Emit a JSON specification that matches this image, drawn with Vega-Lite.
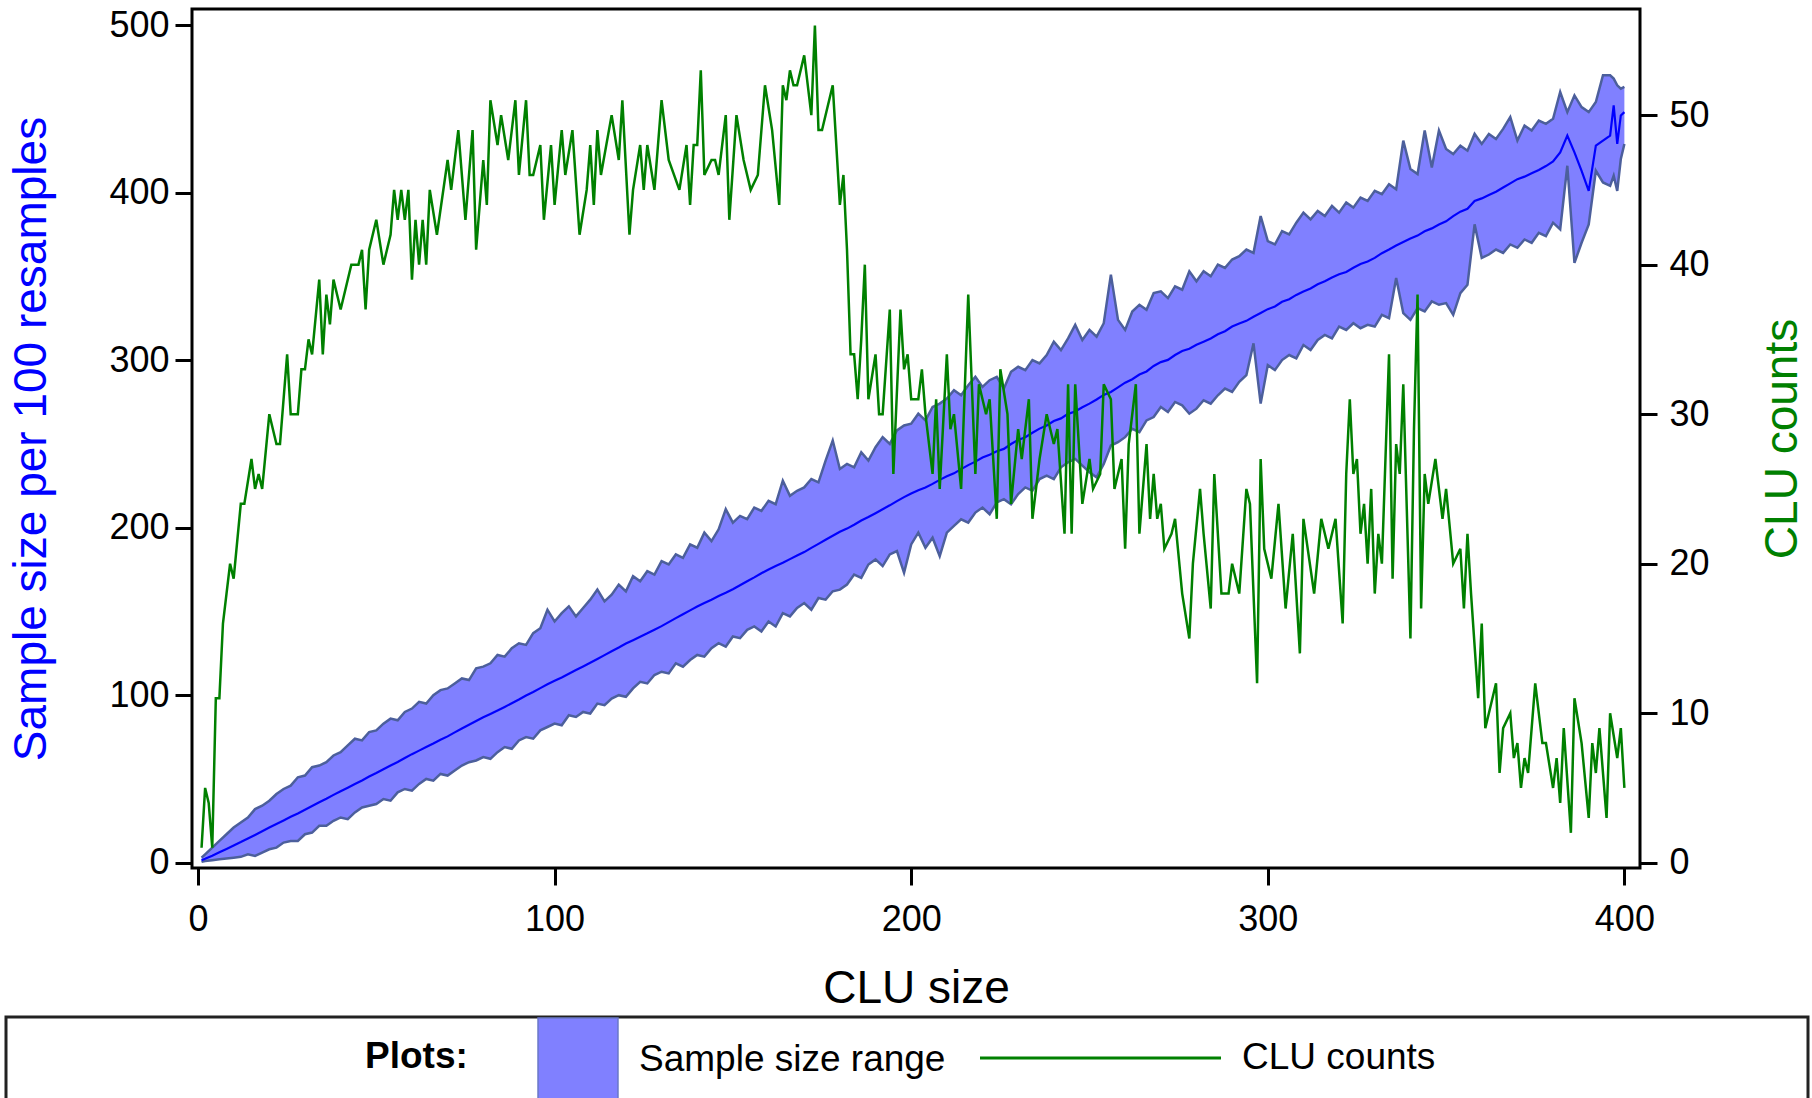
{
  "$schema": "https://vega.github.io/schema/vega-lite/v6.json",
  "autosize": "none",
  "width": 1448,
  "height": 859,
  "padding": {"left": 192, "top": 9, "right": 172, "bottom": 230},
  "background": "white",
  "datasets": {
    "band": [
      {"clu":1,"low":0.5,"high":3,"mean":1.5},{"clu":2,"low":1,"high":5,"mean":2.3},{"clu":4,"low":1.5,"high":9,"mean":4.1},{"clu":6,"low":2,"high":13,"mean":6.2},{"clu":8,"low":2.5,"high":17,"mean":8.2},{"clu":10,"low":3,"high":21,"mean":10.3},{"clu":12,"low":3.5,"high":24,"mean":12.3},{"clu":14,"low":5,"high":27,"mean":14.5},{"clu":16,"low":4,"high":32,"mean":16.6},{"clu":18,"low":6,"high":34,"mean":18.8},{"clu":20,"low":8,"high":37,"mean":21},{"clu":22,"low":9,"high":41,"mean":23.1},{"clu":24,"low":12,"high":44,"mean":25.2},{"clu":26,"low":13,"high":46,"mean":27.4},{"clu":28,"low":13,"high":51,"mean":29.4},{"clu":30,"low":17,"high":52,"mean":31.6},{"clu":32,"low":18,"high":57,"mean":33.8},{"clu":34,"low":22,"high":58,"mean":36.1},{"clu":36,"low":22,"high":60,"mean":38.2},{"clu":38,"low":25,"high":64,"mean":40.5},{"clu":40,"low":27,"high":66,"mean":42.7},{"clu":42,"low":26,"high":70,"mean":44.8},{"clu":44,"low":30,"high":74,"mean":47},{"clu":46,"low":33,"high":73,"mean":49.1},{"clu":48,"low":34,"high":78,"mean":51.4},{"clu":50,"low":35,"high":79,"mean":53.5},{"clu":52,"low":38,"high":83,"mean":55.8},{"clu":54,"low":37,"high":86,"mean":58},{"clu":56,"low":42,"high":85,"mean":60.1},{"clu":58,"low":44,"high":90,"mean":62.5},{"clu":60,"low":43,"high":92,"mean":64.8},{"clu":62,"low":47,"high":96,"mean":66.9},{"clu":64,"low":50,"high":95,"mean":69},{"clu":66,"low":49,"high":100,"mean":71.1},{"clu":68,"low":53,"high":103,"mean":73.4},{"clu":70,"low":52,"high":104,"mean":75.4},{"clu":72,"low":55,"high":107,"mean":77.8},{"clu":74,"low":58,"high":110,"mean":80.1},{"clu":76,"low":60,"high":109,"mean":82.3},{"clu":78,"low":61,"high":116,"mean":84.6},{"clu":80,"low":63,"high":117,"mean":86.8},{"clu":82,"low":62,"high":119,"mean":88.8},{"clu":84,"low":66,"high":124,"mean":90.9},{"clu":86,"low":69,"high":123,"mean":93},{"clu":88,"low":68,"high":128,"mean":95.2},{"clu":90,"low":73,"high":131,"mean":97.4},{"clu":92,"low":75,"high":130,"mean":99.8},{"clu":94,"low":74,"high":137,"mean":101.9},{"clu":96,"low":79,"high":140,"mean":104.2},{"clu":98,"low":81,"high":151,"mean":106.5},{"clu":100,"low":83,"high":144,"mean":108.6},
      {"clu":102,"low":82,"high":149,"mean":110.5},{"clu":104,"low":88,"high":153,"mean":112.8},{"clu":106,"low":87,"high":147,"mean":115},{"clu":108,"low":90,"high":152,"mean":117.1},{"clu":110,"low":89,"high":157,"mean":119.3},{"clu":112,"low":95,"high":163,"mean":121.6},{"clu":114,"low":94,"high":156,"mean":123.9},{"clu":116,"low":98,"high":160,"mean":126.2},{"clu":118,"low":100,"high":166,"mean":128.4},{"clu":120,"low":99,"high":162,"mean":130.8},{"clu":122,"low":104,"high":171,"mean":132.8},{"clu":124,"low":108,"high":168,"mean":134.9},{"clu":126,"low":107,"high":174,"mean":136.9},{"clu":128,"low":112,"high":172,"mean":139.1},{"clu":130,"low":114,"high":180,"mean":141.2},{"clu":132,"low":113,"high":178,"mean":143.6},{"clu":134,"low":119,"high":184,"mean":146},{"clu":136,"low":117,"high":182,"mean":148.3},{"clu":138,"low":121,"high":190,"mean":150.6},{"clu":140,"low":124,"high":188,"mean":152.9},{"clu":142,"low":123,"high":197,"mean":155},{"clu":144,"low":128,"high":192,"mean":157},{"clu":146,"low":131,"high":199,"mean":159.2},{"clu":148,"low":129,"high":211,"mean":161.1},{"clu":150,"low":135,"high":203,"mean":163.2},{"clu":152,"low":134,"high":207,"mean":165.6},{"clu":154,"low":139,"high":205,"mean":168},{"clu":156,"low":141,"high":212,"mean":170.3},{"clu":158,"low":138,"high":210,"mean":172.8},{"clu":160,"low":144,"high":216,"mean":175},{"clu":162,"low":141,"high":214,"mean":177.1},{"clu":164,"low":149,"high":228,"mean":179},{"clu":166,"low":147,"high":219,"mean":181.2},{"clu":168,"low":152,"high":222,"mean":183.3},{"clu":170,"low":155,"high":224,"mean":185.4},{"clu":172,"low":151,"high":229,"mean":187.9},{"clu":174,"low":158,"high":227,"mean":190.3},{"clu":176,"low":157,"high":240,"mean":192.8},{"clu":178,"low":162,"high":252,"mean":195.1},{"clu":180,"low":163,"high":235,"mean":197.5},{"clu":182,"low":166,"high":238,"mean":199.4},{"clu":184,"low":172,"high":236,"mean":201.7},{"clu":186,"low":170,"high":245,"mean":204.2},{"clu":188,"low":178,"high":240,"mean":206.3},{"clu":190,"low":181,"high":248,"mean":208.6},{"clu":192,"low":177,"high":254,"mean":211},{"clu":194,"low":184,"high":250,"mean":213.3},{"clu":196,"low":186,"high":258,"mean":215.8},{"clu":198,"low":173,"high":261,"mean":218.2},{"clu":200,"low":190,"high":262,"mean":220.4},
      {"clu":202,"low":197,"high":268,"mean":222.3},{"clu":204,"low":188,"high":264,"mean":224},{"clu":206,"low":194,"high":272,"mean":226.1},{"clu":208,"low":183,"high":274,"mean":228.5},{"clu":210,"low":197,"high":277,"mean":230.6},{"clu":212,"low":201,"high":282,"mean":232.4},{"clu":214,"low":205,"high":279,"mean":234.9},{"clu":216,"low":203,"high":285,"mean":237.3},{"clu":218,"low":209,"high":290,"mean":239.4},{"clu":220,"low":212,"high":284,"mean":241.8},{"clu":222,"low":208,"high":288,"mean":243.5},{"clu":224,"low":215,"high":290,"mean":245.6},{"clu":226,"low":217,"high":283,"mean":247},{"clu":228,"low":214,"high":293,"mean":249.9},{"clu":230,"low":220,"high":296,"mean":252.3},{"clu":232,"low":224,"high":294,"mean":254},{"clu":234,"low":222,"high":300,"mean":256.6},{"clu":236,"low":229,"high":298,"mean":259.1},{"clu":238,"low":231,"high":303,"mean":261},{"clu":240,"low":229,"high":311,"mean":263.6},{"clu":242,"low":236,"high":306,"mean":265.2},{"clu":244,"low":239,"high":313,"mean":267.9},{"clu":246,"low":241,"high":321,"mean":269.3},{"clu":248,"low":237,"high":312,"mean":271.8},{"clu":250,"low":233,"high":318,"mean":274},{"clu":252,"low":230,"high":314,"mean":276.5},{"clu":254,"low":238,"high":322,"mean":279.2},{"clu":256,"low":249,"high":351,"mean":281},{"clu":258,"low":251,"high":324,"mean":283.7},{"clu":260,"low":254,"high":318,"mean":286.5},{"clu":262,"low":259,"high":329,"mean":288.6},{"clu":264,"low":257,"high":333,"mean":291.4},{"clu":266,"low":264,"high":330,"mean":293.2},{"clu":268,"low":266,"high":340,"mean":296.5},{"clu":270,"low":272,"high":341,"mean":298.8},{"clu":272,"low":269,"high":337,"mean":300.1},{"clu":274,"low":275,"high":344,"mean":303},{"clu":276,"low":273,"high":342,"mean":305.4},{"clu":278,"low":268,"high":353,"mean":306.8},{"clu":280,"low":271,"high":347,"mean":309.2},{"clu":282,"low":276,"high":353,"mean":311},{"clu":284,"low":274,"high":350,"mean":312.9},{"clu":286,"low":279,"high":357,"mean":315.4},{"clu":288,"low":283,"high":355,"mean":317.2},{"clu":290,"low":281,"high":360,"mean":320},{"clu":292,"low":287,"high":362,"mean":321.8},{"clu":294,"low":291,"high":366,"mean":323.4},{"clu":296,"low":310,"high":364,"mean":325.9},{"clu":298,"low":274,"high":386,"mean":328.1},{"clu":300,"low":297,"high":371,"mean":330.4},
      {"clu":302,"low":294,"high":369,"mean":332},{"clu":304,"low":300,"high":377,"mean":334.8},{"clu":306,"low":303,"high":375,"mean":336.3},{"clu":308,"low":301,"high":382,"mean":338.9},{"clu":310,"low":309,"high":388,"mean":341},{"clu":312,"low":306,"high":384,"mean":342.7},{"clu":314,"low":312,"high":389,"mean":345.2},{"clu":316,"low":315,"high":386,"mean":347},{"clu":318,"low":313,"high":392,"mean":349.3},{"clu":320,"low":320,"high":388,"mean":351.2},{"clu":322,"low":318,"high":394,"mean":352.6},{"clu":324,"low":322,"high":391,"mean":355.1},{"clu":326,"low":319,"high":397,"mean":357.4},{"clu":328,"low":321,"high":395,"mean":358.8},{"clu":330,"low":320,"high":401,"mean":361},{"clu":332,"low":327,"high":399,"mean":363.8},{"clu":334,"low":325,"high":405,"mean":366},{"clu":336,"low":349,"high":402,"mean":368.4},{"clu":338,"low":328,"high":431,"mean":370.5},{"clu":340,"low":324,"high":414,"mean":372.6},{"clu":342,"low":331,"high":411,"mean":374.3},{"clu":344,"low":329,"high":437,"mean":376.9},{"clu":346,"low":335,"high":415,"mean":378.6},{"clu":348,"low":333,"high":437,"mean":380.9},{"clu":350,"low":334,"high":426,"mean":382.8},{"clu":352,"low":327,"high":423,"mean":385.9},{"clu":354,"low":340,"high":428,"mean":388.6},{"clu":356,"low":345,"high":425,"mean":390.3},{"clu":358,"low":381,"high":435,"mean":395},{"clu":360,"low":361,"high":429,"mean":396.5},{"clu":362,"low":363,"high":435,"mean":398.5},{"clu":364,"low":366,"high":432,"mean":400.5},{"clu":366,"low":364,"high":438,"mean":403},{"clu":368,"low":369,"high":445,"mean":405.5},{"clu":370,"low":367,"high":431,"mean":408},{"clu":372,"low":372,"high":440,"mean":409.5},{"clu":374,"low":370,"high":437,"mean":411.5},{"clu":376,"low":376,"high":443,"mean":413.5},{"clu":378,"low":374,"high":441,"mean":415.8},{"clu":380,"low":382,"high":444,"mean":418.5},{"clu":382,"low":378,"high":460,"mean":424},{"clu":384,"low":416,"high":448,"mean":434},{"clu":386,"low":358,"high":458,"mean":424},{"clu":388,"low":370,"high":451,"mean":413},{"clu":390,"low":381,"high":448,"mean":401},{"clu":392,"low":413,"high":454,"mean":428},{"clu":394,"low":406,"high":470,"mean":431},{"clu":396,"low":404,"high":470,"mean":434},{"clu":397,"low":410,"high":468,"mean":452},{"clu":398,"low":401,"high":464,"mean":429},{"clu":399,"low":420,"high":462,"mean":446},{"clu":400,"low":429,"high":463,"mean":448}
    ],
    "counts": [
      {"clu":1,"count":1},{"clu":2,"count":5},{"clu":3,"count":4},{"clu":4,"count":1},{"clu":5,"count":11},{"clu":6,"count":11},{"clu":7,"count":16},{"clu":8,"count":18},{"clu":9,"count":20},{"clu":10,"count":19},{"clu":12,"count":24},{"clu":13,"count":24},{"clu":15,"count":27},{"clu":16,"count":25},{"clu":17,"count":26},{"clu":18,"count":25},{"clu":20,"count":30},{"clu":22,"count":28},{"clu":23,"count":28},{"clu":25,"count":34},{"clu":26,"count":30},{"clu":28,"count":30},{"clu":29,"count":33},{"clu":30,"count":33},{"clu":31,"count":35},{"clu":32,"count":34},{"clu":34,"count":39},{"clu":35,"count":34},{"clu":36,"count":38},{"clu":37,"count":36},{"clu":38,"count":39},{"clu":40,"count":37},{"clu":43,"count":40},{"clu":45,"count":40},{"clu":46,"count":41},{"clu":47,"count":37},{"clu":48,"count":41},{"clu":50,"count":43},{"clu":52,"count":40},{"clu":54,"count":42},{"clu":55,"count":45},{"clu":56,"count":43},{"clu":57,"count":45},{"clu":58,"count":43},{"clu":59,"count":45},{"clu":60,"count":39},{"clu":61,"count":43},{"clu":62,"count":40},{"clu":63,"count":43},{"clu":64,"count":40},{"clu":65,"count":45},{"clu":67,"count":42},{"clu":70,"count":47},{"clu":71,"count":45},{"clu":73,"count":49},{"clu":75,"count":43},{"clu":77,"count":49},{"clu":78,"count":41},{"clu":80,"count":47},{"clu":81,"count":44},{"clu":82,"count":51},{"clu":84,"count":48},{"clu":85,"count":50},{"clu":87,"count":47},{"clu":89,"count":51},{"clu":90,"count":46},{"clu":92,"count":51},{"clu":93,"count":46},{"clu":94,"count":46},{"clu":96,"count":48},{"clu":97,"count":43},{"clu":99,"count":48},{"clu":100,"count":44},
      {"clu":102,"count":49},{"clu":103,"count":46},{"clu":105,"count":49},{"clu":107,"count":42},{"clu":109,"count":45},{"clu":110,"count":48},{"clu":111,"count":44},{"clu":112,"count":49},{"clu":113,"count":46},{"clu":116,"count":50},{"clu":118,"count":47},{"clu":119,"count":51},{"clu":121,"count":42},{"clu":122,"count":45},{"clu":124,"count":48},{"clu":125,"count":45},{"clu":126,"count":48},{"clu":128,"count":45},{"clu":130,"count":51},{"clu":132,"count":47},{"clu":135,"count":45},{"clu":137,"count":48},{"clu":138,"count":44},{"clu":139,"count":48},{"clu":140,"count":48},{"clu":141,"count":53},{"clu":142,"count":46},{"clu":144,"count":47},{"clu":145,"count":47},{"clu":146,"count":46},{"clu":148,"count":50},{"clu":149,"count":43},{"clu":151,"count":50},{"clu":153,"count":47},{"clu":155,"count":45},{"clu":157,"count":46},{"clu":159,"count":52},{"clu":161,"count":49},{"clu":163,"count":44},{"clu":164,"count":52},{"clu":165,"count":51},{"clu":166,"count":53},{"clu":167,"count":52},{"clu":168,"count":52},{"clu":170,"count":54},{"clu":172,"count":50},{"clu":173,"count":56},{"clu":174,"count":49},{"clu":175,"count":49},{"clu":178,"count":52},{"clu":179,"count":48},{"clu":180,"count":44},{"clu":181,"count":46},{"clu":182,"count":41},{"clu":183,"count":34},{"clu":184,"count":34},{"clu":185,"count":31},{"clu":186,"count":35},{"clu":187,"count":40},{"clu":188,"count":31},{"clu":190,"count":34},{"clu":191,"count":30},{"clu":192,"count":30},{"clu":194,"count":37},{"clu":195,"count":26},{"clu":197,"count":37},{"clu":198,"count":33},{"clu":199,"count":34},{"clu":200,"count":31},
      {"clu":202,"count":31},{"clu":203,"count":33},{"clu":204,"count":30},{"clu":206,"count":26},{"clu":207,"count":31},{"clu":208,"count":25},{"clu":210,"count":34},{"clu":211,"count":29},{"clu":212,"count":30},{"clu":214,"count":25},{"clu":216,"count":38},{"clu":218,"count":26},{"clu":219,"count":32},{"clu":221,"count":30},{"clu":222,"count":31},{"clu":224,"count":23},{"clu":225,"count":33},{"clu":227,"count":30},{"clu":228,"count":24},{"clu":230,"count":29},{"clu":231,"count":27},{"clu":233,"count":31},{"clu":234,"count":23},{"clu":236,"count":27},{"clu":238,"count":30},{"clu":240,"count":28},{"clu":241,"count":29},{"clu":243,"count":22},{"clu":244,"count":32},{"clu":245,"count":22},{"clu":246,"count":32},{"clu":248,"count":24},{"clu":250,"count":27},{"clu":251,"count":25},{"clu":253,"count":26},{"clu":254,"count":32},{"clu":256,"count":31},{"clu":257,"count":25},{"clu":259,"count":27},{"clu":260,"count":21},{"clu":261,"count":28},{"clu":263,"count":32},{"clu":264,"count":22},{"clu":266,"count":28},{"clu":267,"count":23},{"clu":268,"count":26},{"clu":269,"count":23},{"clu":270,"count":24},{"clu":271,"count":21},{"clu":273,"count":22},{"clu":274,"count":23},{"clu":276,"count":18},{"clu":278,"count":15},{"clu":279,"count":20},{"clu":281,"count":25},{"clu":282,"count":22},{"clu":284,"count":17},{"clu":285,"count":26},{"clu":287,"count":18},{"clu":289,"count":18},{"clu":290,"count":20},{"clu":292,"count":18},{"clu":294,"count":25},{"clu":295,"count":24},{"clu":297,"count":12},{"clu":298,"count":27},{"clu":299,"count":21},
      {"clu":301,"count":19},{"clu":303,"count":24},{"clu":305,"count":17},{"clu":307,"count":22},{"clu":309,"count":14},{"clu":310,"count":23},{"clu":313,"count":18},{"clu":315,"count":23},{"clu":317,"count":21},{"clu":319,"count":23},{"clu":321,"count":16},{"clu":322,"count":26},{"clu":323,"count":31},{"clu":324,"count":26},{"clu":325,"count":27},{"clu":326,"count":22},{"clu":327,"count":24},{"clu":328,"count":20},{"clu":329,"count":25},{"clu":330,"count":18},{"clu":331,"count":22},{"clu":332,"count":20},{"clu":334,"count":34},{"clu":335,"count":19},{"clu":336,"count":28},{"clu":337,"count":26},{"clu":338,"count":32},{"clu":340,"count":15},{"clu":341,"count":29},{"clu":342,"count":38},{"clu":343,"count":17},{"clu":344,"count":26},{"clu":345,"count":24},{"clu":347,"count":27},{"clu":349,"count":23},{"clu":350,"count":25},{"clu":352,"count":20},{"clu":354,"count":21},{"clu":355,"count":17},{"clu":356,"count":22},{"clu":357,"count":18},{"clu":359,"count":11},{"clu":360,"count":16},{"clu":361,"count":9},{"clu":362,"count":10},{"clu":364,"count":12},{"clu":365,"count":6},{"clu":366,"count":9},{"clu":368,"count":10},{"clu":369,"count":7},{"clu":370,"count":8},{"clu":371,"count":5},{"clu":372,"count":7},{"clu":373,"count":6},{"clu":375,"count":12},{"clu":377,"count":8},{"clu":378,"count":8},{"clu":380,"count":5},{"clu":381,"count":7},{"clu":382,"count":4},{"clu":383,"count":9},{"clu":385,"count":2},{"clu":386,"count":11},{"clu":388,"count":8},{"clu":390,"count":3},{"clu":391,"count":8},{"clu":392,"count":6},{"clu":393,"count":9},{"clu":395,"count":3},{"clu":396,"count":10},{"clu":398,"count":7},{"clu":399,"count":9},{"clu":400,"count":5}
    ]
  },
  "encoding": {
    "x": {
      "field": "clu", "type": "quantitative", "title": "CLU size",
      "scale": {"domain": [-1.68, 404.38], "nice": false, "zero": false},
      "axis": {"values": [0, 100, 200, 300, 400], "labelFlush": false, "labelPadding": 17, "titleY": 134, "titleBaseline": "alphabetic"}
    }
  },
  "layer": [
    {
      "data": {"name": "band"},
      "layer": [
        {
          "mark": {"type": "area", "opacity": 1},
          "encoding": {
            "y": {
              "field": "low", "type": "quantitative", "title": "Sample size per 100 resamples",
              "scale": {"domain": [-3.16, 509.55], "nice": false, "zero": false},
              "axis": {"orient": "left", "values": [0, 100, 200, 300, 400, 500], "labelPadding": 6, "titleColor": "#0000ff", "titleAngle": 270, "titleX": -147, "titleY": 429.5, "titleAlign": "center", "titleBaseline": "alphabetic"}
            },
            "y2": {"field": "high"},
            "fill": {
              "datum": "Sample size range", "type": "nominal",
              "scale": {"range": ["#8080ff"]},
              "legend": {
                "orient": "none", "legendX": -186, "legendY": 1008, "direction": "horizontal",
                "title": null,
                "labelFont": "Liberation Sans", "labelFontSize": 37, "labelColor": "black", "labelOffset": 18, "labelLimit": 3000,
                "symbolType": "M-0.952,-1H0.952V1H-0.952ZM29.2,0L29.2,0", "symbolSize": 7056, "symbolOffset": 529,
                "symbolStrokeWidth": 1.5, "symbolStrokeColor": "#6a78c8",
                "padding": 0, "strokeColor": "#222222"
              }
            }
          }
        },
        {
          "mark": {"type": "line", "color": "#4c5f9c", "strokeWidth": 2.5},
          "encoding": {"y": {"field": "high", "type": "quantitative", "title": "Sample size per 100 resamples"}}
        },
        {
          "mark": {"type": "line", "color": "#4c5f9c", "strokeWidth": 2.5},
          "encoding": {"y": {"field": "low", "type": "quantitative", "title": "Sample size per 100 resamples"}}
        },
        {
          "mark": {"type": "line", "color": "#0000ff", "strokeWidth": 2.2},
          "encoding": {"y": {"field": "mean", "type": "quantitative", "title": "Sample size per 100 resamples"}}
        }
      ]
    },
    {
      "data": {"name": "counts"},
      "mark": {"type": "line", "strokeWidth": 2.5},
      "encoding": {
        "y": {
          "field": "count", "type": "quantitative", "title": "CLU counts",
          "scale": {"domain": [-0.355, 57.1], "nice": false, "zero": false},
          "axis": {"orient": "right", "values": [0, 10, 20, 30, 40, 50], "labelPadding": 12, "titleColor": "#008000", "titleAngle": 270, "titleX": 156.5, "titleY": 429.5, "titleAlign": "center", "titleBaseline": "alphabetic"}
        },
        "stroke": {
          "datum": "CLU counts", "type": "nominal",
          "scale": {"range": ["#008000"]},
          "legend": {
            "orient": "none", "legendX": 173, "legendY": 927, "direction": "horizontal",
            "title": "Plots:", "titleOrient": "left", "titleAnchor": "end", "titlePadding": 510.5, "titleLimit": 3000,
            "titleFont": "Liberation Sans", "titleFontSize": 37, "titleFontWeight": "bold", "titleColor": "black",
            "labelFont": "Liberation Sans", "labelFontSize": 37, "labelColor": "black", "labelOffset": 19.5, "labelLimit": 3000,
            "symbolType": "M-1,0H1", "symbolSize": 58081, "symbolStrokeWidth": 3, "padding": 0
          }
        }
      }
    }
  ],
  "resolve": {"scale": {"y": "independent"}},
  "config": {
    "font": "Liberation Sans",
    "view": {"stroke": "black", "strokeWidth": 3},
    "axis": {
      "domain": false, "grid": false, "ticks": true, "tickColor": "black", "tickWidth": 3, "tickSize": 17,
      "labelFont": "Liberation Sans", "labelFontSize": 36, "labelColor": "black",
      "titleFont": "Liberation Sans", "titleFontSize": 46, "titleFontWeight": "normal"
    },
    "legend": {"strokeWidth": 3}
  }
}
